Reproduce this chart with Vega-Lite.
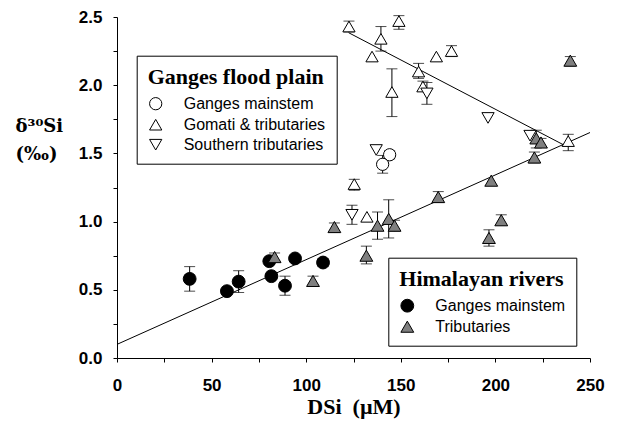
{
  "$schema": "https://vega.github.io/schema/vega-lite/v6.json",
  "width": 473,
  "height": 341,
  "autosize": {"type": "none"},
  "padding": {"left": 117, "top": 17, "right": 30, "bottom": 75},
  "background": "white",
  "config": {
    "view": {"stroke": null},
    "axis": {
      "grid": false, "domainColor": "black", "domainWidth": 1, "tickColor": "black", "tickSize": 4,
      "labelFont": "Liberation Sans", "labelFontSize": 17, "labelFontWeight": "bold", "labelColor": "black",
      "labelFlush": false, "labelOverlap": false,
      "titleFontWeight": "bold", "titleColor": "black"
    },
    "axisX": {"labelPadding": 15, "titleFont": "Liberation Serif", "titleFontSize": 22, "titleBaseline": "alphabetic", "titleY": 55},
    "axisY": {"labelPadding": 11, "titleFont": "DejaVu Serif", "titleFontSize": 18, "titleAngle": 0, "titleAlign": "left", "titleBaseline": "alphabetic", "titleX": -102, "titleY": 114, "titleLineHeight": 28},
    "legend": {
      "orient": "none", "strokeColor": "black", "fillColor": "white", "padding": 11,
      "titleFont": "Liberation Serif", "titleFontSize": 22, "titleFontWeight": "bold", "titleColor": "black", "titlePadding": 7,
      "labelFont": "Liberation Sans", "labelFontSize": 16, "labelColor": "black", "labelOffset": 20,
      "rowPadding": 4, "symbolStrokeColor": "black", "symbolStrokeWidth": 1, "symbolOpacity": 1
    }
  },
  "datasets": {
    "fits": [
      {"fit": "him", "dsi": 0, "d30": 0.1},
      {"fit": "him", "dsi": 250, "d30": 1.653},
      {"fit": "flood", "dsi": 122.4, "d30": 2.385},
      {"fit": "flood", "dsi": 236, "d30": 1.563}
    ],
    "pts": [
      {"group": "him", "series": "Ganges mainstem", "dsi": 38.4, "d30": 0.58, "lo": 0.49, "hi": 0.67},
      {"group": "him", "series": "Ganges mainstem", "dsi": 58.1, "d30": 0.49, "lo": null, "hi": null},
      {"group": "him", "series": "Ganges mainstem", "dsi": 64.3, "d30": 0.56, "lo": 0.48, "hi": 0.64},
      {"group": "him", "series": "Ganges mainstem", "dsi": 80.5, "d30": 0.71, "lo": null, "hi": null},
      {"group": "him", "series": "Ganges mainstem", "dsi": 81.6, "d30": 0.60, "lo": null, "hi": null},
      {"group": "him", "series": "Ganges mainstem", "dsi": 88.8, "d30": 0.53, "lo": 0.46, "hi": 0.60},
      {"group": "him", "series": "Ganges mainstem", "dsi": 94.1, "d30": 0.73, "lo": null, "hi": null},
      {"group": "him", "series": "Ganges mainstem", "dsi": 108.9, "d30": 0.70, "lo": 0.67, "hi": 0.73},
      {"group": "him", "series": "Tributaries", "dsi": 83.3, "d30": 0.74, "lo": 0.71, "hi": 0.77},
      {"group": "him", "series": "Tributaries", "dsi": 103.6, "d30": 0.565, "lo": 0.53, "hi": 0.60},
      {"group": "him", "series": "Tributaries", "dsi": 114.9, "d30": 0.96, "lo": 0.92, "hi": 0.99},
      {"group": "him", "series": "Tributaries", "dsi": 131.8, "d30": 0.75, "lo": 0.69, "hi": 0.82},
      {"group": "him", "series": "Tributaries", "dsi": 137.7, "d30": 0.97, "lo": 0.87, "hi": 1.07},
      {"group": "him", "series": "Tributaries", "dsi": 143.6, "d30": 1.02, "lo": 0.88, "hi": 1.16},
      {"group": "him", "series": "Tributaries", "dsi": 146.7, "d30": 0.97, "lo": 0.93, "hi": 1.01},
      {"group": "him", "series": "Tributaries", "dsi": 169.8, "d30": 1.18, "lo": 1.14, "hi": 1.22},
      {"group": "him", "series": "Tributaries", "dsi": 197.8, "d30": 1.30, "lo": null, "hi": null},
      {"group": "him", "series": "Tributaries", "dsi": 203.1, "d30": 1.01, "lo": 0.975, "hi": 1.05},
      {"group": "him", "series": "Tributaries", "dsi": 196.6, "d30": 0.88, "lo": 0.82, "hi": 0.94},
      {"group": "him", "series": "Tributaries", "dsi": 220.6, "d30": 1.47, "lo": 1.43, "hi": 1.51},
      {"group": "him", "series": "Tributaries", "dsi": 221.6, "d30": 1.61, "lo": 1.54, "hi": 1.67},
      {"group": "him", "series": "Tributaries", "dsi": 224.1, "d30": 1.58, "lo": 1.55, "hi": 1.61},
      {"group": "him", "series": "Tributaries", "dsi": 239.6, "d30": 2.18, "lo": 2.14, "hi": 2.21},
      {"group": "flood", "series": "Ganges mainstem", "dsi": 144.1, "d30": 1.49, "lo": 1.46, "hi": 1.52},
      {"group": "flood", "series": "Ganges mainstem", "dsi": 140.4, "d30": 1.42, "lo": 1.355, "hi": 1.485},
      {"group": "flood", "series": "Gomati & tributaries", "dsi": 122.6, "d30": 2.43, "lo": 2.39, "hi": 2.47},
      {"group": "flood", "series": "Gomati & tributaries", "dsi": 149.0, "d30": 2.47, "lo": 2.41, "hi": 2.51},
      {"group": "flood", "series": "Gomati & tributaries", "dsi": 139.5, "d30": 2.34, "lo": 2.25, "hi": 2.43},
      {"group": "flood", "series": "Gomati & tributaries", "dsi": 134.8, "d30": 2.21, "lo": null, "hi": null},
      {"group": "flood", "series": "Gomati & tributaries", "dsi": 145.3, "d30": 1.95, "lo": 1.77, "hi": 2.12},
      {"group": "flood", "series": "Gomati & tributaries", "dsi": 159.4, "d30": 2.10, "lo": 2.05, "hi": 2.16},
      {"group": "flood", "series": "Gomati & tributaries", "dsi": 161.7, "d30": 1.99, "lo": 1.96, "hi": 2.03},
      {"group": "flood", "series": "Gomati & tributaries", "dsi": 168.8, "d30": 2.21, "lo": null, "hi": null},
      {"group": "flood", "series": "Gomati & tributaries", "dsi": 176.8, "d30": 2.25, "lo": 2.21, "hi": 2.29},
      {"group": "flood", "series": "Gomati & tributaries", "dsi": 125.4, "d30": 1.275, "lo": 1.23, "hi": 1.31},
      {"group": "flood", "series": "Gomati & tributaries", "dsi": 132.1, "d30": 1.035, "lo": null, "hi": null},
      {"group": "flood", "series": "Gomati & tributaries", "dsi": 238.5, "d30": 1.59, "lo": 1.52, "hi": 1.64},
      {"group": "flood", "series": "Southern tributaries", "dsi": 124.2, "d30": 1.05, "lo": 0.98, "hi": 1.12},
      {"group": "flood", "series": "Southern tributaries", "dsi": 137.0, "d30": 1.525, "lo": null, "hi": null},
      {"group": "flood", "series": "Southern tributaries", "dsi": 163.8, "d30": 1.94, "lo": 1.86, "hi": 2.02},
      {"group": "flood", "series": "Southern tributaries", "dsi": 196.1, "d30": 1.76, "lo": null, "hi": null},
      {"group": "flood", "series": "Southern tributaries", "dsi": 218.3, "d30": 1.63, "lo": null, "hi": null}
    ]
  },
  "layer": [
    {
      "data": {"name": "fits"},
      "mark": {"type": "line", "color": "black", "strokeWidth": 1},
      "encoding": {
        "x": {
          "field": "dsi", "type": "quantitative",
          "scale": {"domain": [0, 250], "nice": false, "zero": false},
          "axis": {
            "title": "DSi\u00a0\u00a0(µM)",
            "values": [0, 25, 50, 75, 100, 125, 150, 175, 200, 225, 250],
            "labelExpr": "datum.value % 50 === 0 ? datum.label : ''"
          }
        },
        "y": {
          "field": "d30", "type": "quantitative",
          "scale": {"domain": [0, 2.5], "nice": false, "zero": false},
          "axis": {
            "title": ["δ³⁰Si", "(‰)"],
            "values": [0, 0.25, 0.5, 0.75, 1, 1.25, 1.5, 1.75, 2, 2.25, 2.5],
            "labelExpr": "round(datum.value * 4) % 2 === 0 ? format(datum.value, '.1f') : ''"
          }
        },
        "detail": {"field": "fit"}
      }
    },
    {
      "data": {"name": "pts"},
      "transform": [{"filter": "datum.lo != null"}],
      "mark": {"type": "errorbar", "color": "black", "thickness": 1, "ticks": {"size": 11, "thickness": 1, "color": "black"}},
      "encoding": {
        "x": {
          "field": "dsi", "type": "quantitative",
          "axis": {
            "title": "DSi\u00a0\u00a0(µM)",
            "values": [0, 25, 50, 75, 100, 125, 150, 175, 200, 225, 250],
            "labelExpr": "datum.value % 50 === 0 ? datum.label : ''"
          }
        },
        "y": {
          "field": "lo", "type": "quantitative",
          "axis": {
            "title": ["δ³⁰Si", "(‰)"],
            "values": [0, 0.25, 0.5, 0.75, 1, 1.25, 1.5, 1.75, 2, 2.25, 2.5],
            "labelExpr": "round(datum.value * 4) % 2 === 0 ? format(datum.value, '.1f') : ''"
          }
        },
        "y2": {"field": "hi"}
      }
    },
    {
      "data": {"name": "pts"},
      "transform": [{"filter": "datum.group === 'flood'"}],
      "mark": {"type": "point", "strokeWidth": 1, "opacity": 1, "size": 150},
      "encoding": {
        "x": {
          "field": "dsi", "type": "quantitative",
          "axis": {
            "title": "DSi\u00a0\u00a0(µM)",
            "values": [0, 25, 50, 75, 100, 125, 150, 175, 200, 225, 250],
            "labelExpr": "datum.value % 50 === 0 ? datum.label : ''"
          }
        },
        "y": {
          "field": "d30", "type": "quantitative",
          "axis": {
            "title": ["δ³⁰Si", "(‰)"],
            "values": [0, 0.25, 0.5, 0.75, 1, 1.25, 1.5, 1.75, 2, 2.25, 2.5],
            "labelExpr": "round(datum.value * 4) % 2 === 0 ? format(datum.value, '.1f') : ''"
          }
        },
        "shape": {
          "field": "series", "type": "nominal",
          "scale": {"domain": ["Ganges mainstem", "Gomati & tributaries", "Southern tributaries"], "range": ["circle", "triangle-up", "triangle-down"]},
          "legend": {"title": "Ganges flood plain", "legendX": 19.7, "legendY": 38.7, "symbolSize": 150}
        },
        "fill": {
          "field": "series", "type": "nominal",
          "scale": {"domain": ["Ganges mainstem", "Gomati & tributaries", "Southern tributaries"], "range": ["white", "white", "white"]},
          "legend": {"title": "Ganges flood plain", "legendX": 19.7, "legendY": 38.7, "symbolSize": 150}
        },
        "stroke": {
          "field": "series", "type": "nominal",
          "scale": {"domain": ["Ganges mainstem", "Gomati & tributaries", "Southern tributaries"], "range": ["black", "black", "black"]},
          "legend": {"title": "Ganges flood plain", "legendX": 19.7, "legendY": 38.7, "symbolSize": 150}
        }
      }
    },
    {
      "data": {"name": "pts"},
      "transform": [{"filter": "datum.group === 'him'"}],
      "mark": {"type": "point", "strokeWidth": 1, "opacity": 1, "size": 165},
      "encoding": {
        "x": {
          "field": "dsi", "type": "quantitative",
          "axis": {
            "title": "DSi\u00a0\u00a0(µM)",
            "values": [0, 25, 50, 75, 100, 125, 150, 175, 200, 225, 250],
            "labelExpr": "datum.value % 50 === 0 ? datum.label : ''"
          }
        },
        "y": {
          "field": "d30", "type": "quantitative",
          "axis": {
            "title": ["δ³⁰Si", "(‰)"],
            "values": [0, 0.25, 0.5, 0.75, 1, 1.25, 1.5, 1.75, 2, 2.25, 2.5],
            "labelExpr": "round(datum.value * 4) % 2 === 0 ? format(datum.value, '.1f') : ''"
          }
        },
        "shape": {
          "field": "series", "type": "nominal",
          "scale": {"domain": ["Ganges mainstem", "Tributaries"], "range": ["circle", "triangle-up"]},
          "legend": {"title": "Himalayan rivers", "legendX": 271.3, "legendY": 240.7, "symbolSize": 165}
        },
        "fill": {
          "field": "series", "type": "nominal",
          "scale": {"domain": ["Ganges mainstem", "Tributaries"], "range": ["black", "#7f7f7f"]},
          "legend": {"title": "Himalayan rivers", "legendX": 271.3, "legendY": 240.7, "symbolSize": 165}
        },
        "stroke": {
          "field": "series", "type": "nominal",
          "scale": {"domain": ["Ganges mainstem", "Tributaries"], "range": ["black", "black"]},
          "legend": {"title": "Himalayan rivers", "legendX": 271.3, "legendY": 240.7, "symbolSize": 165}
        }
      }
    }
  ],
  "resolve": {
    "scale": {"shape": "independent", "fill": "independent", "stroke": "independent"},
    "legend": {"shape": "independent", "fill": "independent", "stroke": "independent"}
  }
}
